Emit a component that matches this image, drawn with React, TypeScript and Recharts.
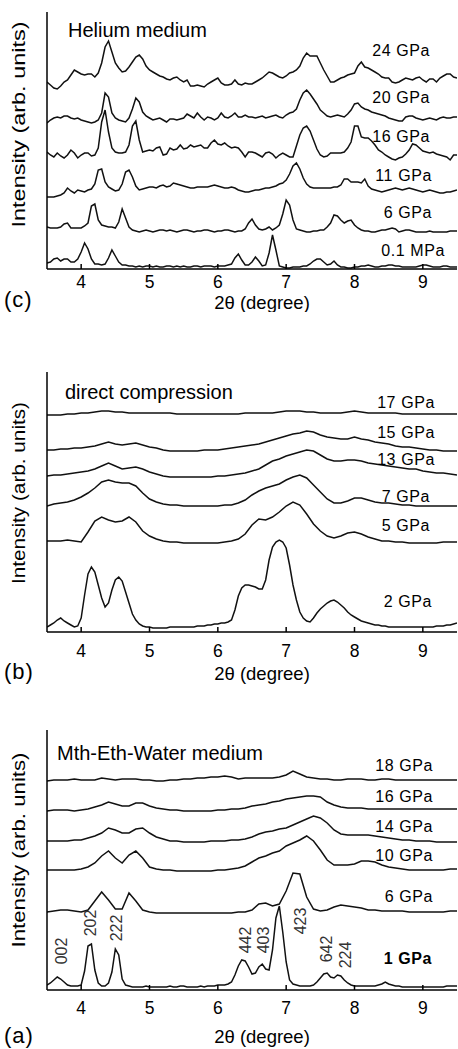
import React from 'react';
import { LineChart, Line, XAxis, YAxis, ReferenceDot } from 'recharts';

const FONT = '"Liberation Sans", Arial, sans-serif';
const TICKS = [4, 5, 6, 7, 8, 9];

// (c) Helium medium — intensities above each baseline, 2θ 3.5..9.5
const HE_24GPA = [
  6, 3, 0, -1, 2, 6, 8, 13, 18, 16,
  14, 13, 14, 14, 11, 15, 25, 41, 47, 36,
  25, 20, 16, 17, 21, 26, 31, 33, 29, 22,
  18, 16, 14, 12, 11, 9, 8, 10, 11, 8,
  6, 8, 2, 2, 3, 2, 1, 4, 6, 8,
  10, 5, 3, 3, 4, 8, 4, 3, 5, 4,
  4, 6, 8, 10, 13, 16, 15, 13, 11, 10,
  12, 15, 16, 18, 22, 30, 35, 32, 32, 32,
  25, 18, 12, 6, 6, 8, 10, 11, 13, 14,
  15, 22, 26, 21, 20, 18, 16, 14, 11, 10,
  10, 6, 5, 6, 8, 10, 9, 8, 10, 11,
  8, 6, 9, 9, 6, 10, 12, 14, 14, 11, 10,
];
const HE_20GPA = [
  -3, 0, 2, 3, 2, 4, 4, 2, 1, 2,
  0, -1, -2, -3, -2, 0, 7, 27, 23, 7,
  2, 0, -1, -2, 2, 11, 22, 18, 8, 4,
  2, 0, 1, 2, 0, -2, 1, 1, 0, 1,
  2, 6, 4, 2, 7, 3, 0, 3, 2, 0,
  2, 7, 3, 2, 4, 7, 3, 3, 5, 3,
  3, 2, 3, 4, 2, 3, 4, 5, 3, 2,
  5, 7, 8, 11, 20, 27, 30, 26, 21, 16,
  10, 7, 4, 3, 4, 5, 4, 3, 6, 10,
  16, 17, 13, 11, 10, 8, 7, 6, 5, 4,
  2, 1, 0, -1, -1, 3, 4, 4, 2, 1,
  0, 1, 2, 1, 0, 2, 3, 2, 2, 3, 3,
];
const HE_16GPA = [
  3, 0, -2, 2, -1, -3, 0, 5, 2, -3,
  0, 2, 2, -1, 0, 7, 33, 45, 23, 7,
  3, 2, 2, 3, 10, 29, 34, 15, 3, 4,
  5, 4, 7, 8, 0, 1, 7, 5, 6, 10,
  6, 7, 10, 8, 9, 10, 7, 7, 12, 15,
  11, 10, 12, 9, 7, 8, 7, 3, -2, 3,
  3, 2, 0, -2, 2, 3, 1, -3, 0, 2,
  0, -2, -2, 9, 20, 27, 29, 24, 15, 6,
  0, -2, -1, 2, 2, 2, 2, 3, 7, 13,
  29, 29, 18, 17, 17, 14, 10, 5, 3, 0,
  -2, -4, -5, -3, -2, 1, 5, 11, 10, 7,
  4, 3, 2, 3, 1, 0, -1, -2, -5, 0, 0,
];
const HE_11GPA = [
  -7, -7, -7, -6, -5, -3, 2, -1, -3, 0,
  -1, -2, 0, 1, 6, 20, 21, 8, 3, 1,
  -1, 0, 6, 18, 20, 13, 4, 0, 1, 2,
  3, 3, 2, 4, 5, 3, 4, 7, 6, 5,
  4, 3, 2, 2, 3, 3, 3, 3, 4, 5,
  4, 3, 2, 2, 3, 2, 0, -1, -2, -2,
  -1, 0, 0, 1, 2, 2, 3, 4, 6, 7,
  10, 16, 24, 27, 21, 12, 6, 3, 2, 2,
  2, 2, 2, 2, 3, 3, 5, 11, 11, 8,
  8, 8, 7, 11, 4, 1, 0, -1, -2, -1,
  0, 1, 2, 1, 0, 1, 2, 1, 0, -1,
  -2, -1, 0, -1, -2, -3, -3, -2, -2, -1, 0,
];
const HE_6GPA = [
  4, 3, 3, 3, 4, 7, 8, 3, 3, 3,
  3, 5, 8, 25, 27, 11, 6, 5, 4, 4,
  3, 9, 22, 13, 4, 1, 0, -1, 0, 1,
  0, -1, 0, 1, 1, 0, 1, 0, -1, 0,
  1, 1, 0, -1, 0, 0, 1, 1, 0, -1,
  0, 0, 1, 1, 0, -1, 0, 0, 2, 8,
  12, 6, 2, 1, 2, 4, 1, 3, 6, 17,
  31, 26, 11, 2, 1, 0, -1, -1, 0, 0,
  1, 1, 4, 8, 16, 15, 11, 8, 10, 11,
  6, 3, 1, 0, 0, -1, -1, 0, 1, 1,
  2, 3, 2, -1, 0, 1, 1, 0, -1, -1,
  -1, -1, 0, -1, -1, -1, -1, -1, 0, 0, 0,
];
const HE_01MPA = [
  4, 5, 8, 9, 6, 8, 8, 5, 5, 8,
  15, 24, 18, 8, 3, 3, 2, 3, 9, 17,
  11, 5, 2, 2, 1, 1, 0, 1, 0, 1,
  1, 0, 1, 0, 0, 1, 1, 0, 1, 0,
  1, 0, 0, 1, 1, 0, 1, 1, 1, 0,
  1, 1, 1, 2, 3, 9, 13, 7, 2, 2,
  5, 10, 6, 1, 2, 14, 32, 17, 1, 0,
  -1, -1, 0, 0, 0, 1, 1, 3, 6, 8,
  8, 5, 2, 3, 6, 2, 0, 0, -1, -1,
  0, 0, 1, 1, 2, 1, 0, 0, 1, 1,
  2, 2, 1, 1, 0, 0, 0, 0, 0, 1,
  2, 2, 1, 0, 0, 0, 1, 1, 0, 0, 0,
];
const HE_OFFSETS = [181, 149, 114, 79, 38, 2];
const HE_LABELS = ['24 GPa', '20 GPa', '16 GPa', '11 GPa', '6 GPa', '0.1 MPa'];
const HE_LABEL_X = [9.105, 9.105, 9.105, 9.134, 9.134, 9.325];
const HE_LABEL_Y = [219, 172, 133, 94, 57, 19];

// (b) direct compression
const DC_17GPA = [
  -1, -1, -1, 0, 0, 1, 1, 2, 3, 3,
  2, 2, 1, 1, 1, 1, 1, 1, 1, 0,
  0, 0, 0, 0, 0, 0, 0, 0, 0, 1,
  1, 1, 1, 1, 2, 3, 3, 3, 2, 2,
  1, 1, 1, 1, 2, 3, 2, 1, 1, 1,
  1, 1, 0, 0, 0, 0, 0, 0, 0, 0, 0,
];
const DC_15GPA = [
  1, 1, 2, 2, 3, 3, 4, 5, 7, 9,
  7, 6, 7, 8, 6, 4, 3, 1, 0, 0,
  0, 0, 0, 1, 1, 1, 2, 3, 4, 5,
  6, 7, 9, 11, 13, 15, 17, 18, 20, 19,
  16, 14, 13, 12, 12, 14, 12, 11, 9, 8,
  7, 5, 4, 4, 3, 2, 1, 1, 0, 0, 0,
];
const DC_13GPA = [
  0, 1, 1, 2, 3, 4, 5, 7, 10, 13,
  10, 7, 8, 9, 7, 4, 2, 0, -1, -1,
  -1, -1, -1, -1, -1, 0, 0, 1, 2, 3,
  5, 7, 11, 15, 17, 20, 22, 24, 26, 25,
  21, 17, 15, 15, 16, 16, 15, 13, 12, 11,
  10, 9, 8, 7, 7, 5, 4, 3, 3, 2, 1,
];
const DC_7GPA = [
  0, 2, 3, 4, 6, 9, 13, 18, 24, 26,
  24, 23, 23, 20, 13, 7, 4, 2, 1, 1,
  0, 0, 0, 0, 0, 0, 1, 1, 3, 6,
  11, 15, 18, 20, 22, 26, 29, 31, 28, 21,
  14, 7, 3, 3, 5, 8, 8, 6, 4, 3,
  3, 2, 1, 1, 0, 0, 0, 0, 0, 0, 0,
];
const DC_5GPA = [
  1, 1, 1, 2, 1, 0, 10, 21, 25, 22,
  20, 21, 25, 20, 11, 6, 3, 1, 0, 0,
  -1, -1, -1, -1, -1, -1, 0, 1, 3, 8,
  17, 23, 22, 25, 30, 36, 40, 37, 28, 18,
  11, 6, 4, 6, 9, 10, 8, 5, 3, 1,
  1, 0, 0, -1, -1, -1, -1, -1, 0, 0, 0,
];
const DC_2GPA = [
  0, 2, 4, 7, 9, 6, 4, 2, 0, 1,
  9, 32, 53, 60, 55, 42, 29, 20, 24, 37,
  47, 50, 46, 35, 24, 13, 7, 3, 1, 0,
  0, -1, -1, -1, -1, -1, 0, 0, 0, 0,
  0, 0, 0, 0, 1, 1, 1, 2, 2, 3,
  3, 4, 4, 5, 7, 17, 31, 39, 42, 42,
  41, 40, 38, 38, 47, 67, 80, 85, 87, 85,
  79, 62, 42, 27, 15, 9, 6, 5, 9, 14,
  18, 21, 24, 26, 27, 25, 22, 19, 15, 12,
  10, 8, 6, 5, 4, 3, 2, 2, 1, 1,
  0, 0, 0, 0, 0, 0, 0, 0, 0, 0,
  0, 0, 0, 0, 1, 1, 1, 2, 2, 3, 4,
];
const DC_OFFSETS = [218, 181, 156, 126, 90, 5];
const DC_LABELS = ['17 GPa', '15 GPa', '13 GPa', '7 GPa', '5 GPa', '2 GPa'];
const DC_LABEL_X = [9.178, 9.178, 9.178, 9.105, 9.105, 9.134];
const DC_LABEL_Y = [230, 200, 173, 136, 107, 31];

// (a) methanol-ethanol-water medium
const MEW_18GPA = [
  -1, 0, 0, 0, 1, 0, 0, 0, 2, 1,
  0, 1, 1, 1, 0, 0, -1, -1, 0, 0,
  1, 1, 2, 2, 3, 3, 4, 3, 1, 2,
  2, 2, 2, 2, 3, 5, 9, 6, 3, 2,
  1, 1, 0, 0, 1, 1, 1, 0, 0, 1,
  1, 0, 0, 0, 0, 0, 0, 0, 0, 0, 0,
];
const MEW_16GPA = [
  -2, -1, -1, -1, -2, -1, 0, 2, 4, 7,
  5, 3, 3, 6, 6, 3, 1, 0, -1, -1,
  -2, -2, -2, -2, -2, -1, -1, 0, 0, 1,
  3, 4, 5, 7, 8, 10, 11, 12, 13, 13,
  12, 7, 4, 2, 1, 1, 1, 0, 0, 0,
  0, 0, 0, 0, 0, 0, 0, 0, 0, 0, 0,
];
const MEW_14GPA = [
  0, 0, 0, 0, 1, 1, 3, 5, 8, 13,
  11, 8, 8, 12, 13, 8, 4, 2, 0, 0,
  -1, -1, -1, -1, 0, 0, 0, 1, 1, 2,
  4, 7, 9, 10, 12, 13, 16, 19, 22, 25,
  23, 18, 11, 7, 6, 6, 6, 6, 5, 4,
  3, 2, 1, 1, 0, 0, 0, -1, -1, -1, -1,
];
const MEW_10GPA = [
  0, 0, 0, 0, 0, 1, 3, 7, 14, 19,
  12, 7, 15, 19, 12, 3, 1, 0, 0, -1,
  -1, -1, -1, -1, -1, 0, 0, 1, 2, 4,
  8, 12, 14, 17, 19, 24, 27, 30, 34, 29,
  20, 10, 5, 5, 5, 6, 9, 9, 8, 5,
  3, 2, 1, 0, 0, 0, 0, 0, 0, 1, 1,
];
const MEW_6GPA = [
  0, 1, 2, 2, 1, 0, 2, 11, 20, 12,
  3, 3, 19, 11, 2, 0, -1, -1, -1, -1,
  -1, -1, -1, -1, -1, -1, -1, -1, 0, 0,
  2, 8, 9, 6, 8, 21, 39, 38, 15, 3,
  1, 2, 5, 7, 6, 5, 4, 2, 2, 1,
  1, 1, 1, 0, 0, 0, 0, 0, 0, 1, 1,
];
const MEW_1GPA = [
  1, 3, 6, 9, 7, 4, 1, 0, 0, 0,
  1, 15, 40, 42, 16, 3, 0, 0, 3, 14,
  37, 31, 7, 1, 0, -1, -1, -1, -1, 0,
  -1, -1, -1, -1, -1, -1, 0, -1, -1, 0,
  0, -1, -1, -1, -1, 0, -1, 0, 0, 0,
  1, 1, 1, 2, 4, 11, 20, 26, 25, 19,
  12, 13, 19, 22, 17, 16, 36, 68, 80, 54,
  24, 6, 2, 1, 0, 0, 0, 0, 1, 4,
  8, 12, 13, 9, 8, 11, 10, 6, 3, 1,
  0, 0, 0, 0, 0, 0, 0, 1, 2, 4,
  2, 1, 0, 0, -1, -1, -1, -1, -1, -1,
  -1, -1, -1, -1, -1, -1, -1, 0, 0, 0, 0,
];
const MEW_OFFSETS = [210, 181, 149, 120, 78, 4];
const MEW_LABELS = ['18 GPa', '16 GPa', '14 GPa', '10 GPa', '6 GPa', '1 GPa'];
const MEW_LABEL_X = [9.149, 9.149, 9.149, 9.149, 9.149, 9.134];
const MEW_LABEL_Y = [225, 194, 164, 135, 94, 32];

const HKL = ['002', '202', '222', '442', '403', '423', '642', '224'];
const HKL_X = [3.705, 4.14, 4.517, 6.408, 6.666, 7.203, 7.593, 7.861];
const HKL_Y = [39, 67, 62, 50, 50, 69, 41, 35];

const AXIS = { stroke: '#000', strokeWidth: 1.5 };

const toPoints = (values: number[], offset: number) =>
  values.map((v, i) => ({ twoTheta: 3.5 + (i * 6) / (values.length - 1), intensity: v + offset }));

interface PanelProps {
  top: number;
  plotHeight: number;
  axisHeight: number;
  traces: number[][];
  offsets: number[];
  labels: string[];
  labelX: number[];
  labelY: number[];
  title: string;
  titleX: number;
  titleY: number;
  tickMargin: number;
  xTitleOffset: number;
  yTitleDy: number;
  yTitleLength: number;
  letter: string;
  letterTop: number;
  boldLabel?: string;
  hkl?: boolean;
}

const Panel: React.FC<PanelProps> = (p) => {
  const height = 12 + p.plotHeight + p.axisHeight;
  return (
    <div style={{ position: 'absolute', left: 0, top: p.top, width: 458, height }}>
      <LineChart width={458} height={height} margin={{ top: 12, right: 1, bottom: 0, left: 0 }}>
        <XAxis
          dataKey="twoTheta"
          type="number"
          domain={[3.5, 9.5]}
          ticks={TICKS}
          allowDataOverflow
          height={p.axisHeight}
          tickSize={-5}
          tickMargin={p.tickMargin}
          axisLine={AXIS}
          tickLine={AXIS}
          tick={{ fontSize: 17.5, fill: '#000', fontFamily: FONT }}
          label={{
            value: '2θ (degree)',
            position: 'insideBottom',
            offset: p.xTitleOffset,
            dx: 10,
            fontSize: 18.5,
            fill: '#000',
            fontFamily: FONT,
          }}
        />
        <XAxis
          xAxisId="top"
          orientation="top"
          dataKey="twoTheta"
          type="number"
          domain={[3.5, 9.5]}
          ticks={TICKS}
          allowDataOverflow
          height={0}
          tickSize={-5}
          tick={false}
          axisLine={AXIS}
          tickLine={AXIS}
        />
        <YAxis
          type="number"
          domain={[0, p.plotHeight]}
          allowDataOverflow
          width={47}
          tick={false}
          tickLine={false}
          axisLine={AXIS}
          label={{
            position: 'insideLeft',
            content: (lp: any) => {
              const vb = lp.viewBox || { x: 0, y: 12, width: 47, height: p.plotHeight };
              const cx = vb.x + 18;
              const cy = vb.y + vb.height / 2 + p.yTitleDy;
              return (
                <text
                  x={cx}
                  y={cy}
                  transform={`rotate(-90 ${cx} ${cy})`}
                  textAnchor="middle"
                  dominantBaseline="central"
                  fontSize={19}
                  fontFamily={FONT}
                  fill="#000"
                  textLength={p.yTitleLength}
                  lengthAdjust="spacingAndGlyphs"
                >
                  Intensity (arb. units)
                </text>
              );
            },
          }}
        />
        <YAxis
          yAxisId="right"
          orientation="right"
          type="number"
          domain={[0, p.plotHeight]}
          allowDataOverflow
          width={0}
          tick={false}
          tickLine={false}
          axisLine={AXIS}
        />
        {p.traces.map((t, i) => (
          <Line
            key={p.labels[i]}
            data={toPoints(t, p.offsets[i])}
            dataKey="intensity"
            type="linear"
            stroke="#111"
            strokeWidth={1.5}
            dot={false}
            isAnimationActive={false}
          />
        ))}
        {p.labels.map((text, i) => (
          <ReferenceDot
            key={'lbl' + text}
            x={p.labelX[i]}
            y={p.labelY[i]}
            r={0}
            ifOverflow="visible"
            shape={(s: any) => (
              <text
                x={s.cx}
                y={s.cy}
                textAnchor="end"
                dominantBaseline="central"
                fontSize={16}
                letterSpacing={0.6}
                fontWeight={text === p.boldLabel ? 'bold' : 'normal'}
                fontFamily={FONT}
                fill="#000"
              >
                {text}
              </text>
            )}
          />
        ))}
        <ReferenceDot
          x={p.titleX}
          y={p.titleY}
          r={0}
          ifOverflow="visible"
          shape={(s: any) => (
            <text x={s.cx} y={s.cy} dominantBaseline="central" fontSize={20} fontFamily={FONT} fill="#000">
              {p.title}
            </text>
          )}
        />
        {p.hkl &&
          HKL.map((h, i) => (
            <ReferenceDot
              key={'hkl' + h}
              x={HKL_X[i]}
              y={HKL_Y[i]}
              r={0}
              ifOverflow="visible"
              shape={(s: any) => (
                <text
                  x={s.cx}
                  y={s.cy}
                  transform={`rotate(-90 ${s.cx} ${s.cy})`}
                  textAnchor="middle"
                  dominantBaseline="central"
                  fontSize={16}
                  fontFamily={FONT}
                  fill="#333"
                >
                  {h}
                </text>
              )}
            />
          ))}
      </LineChart>
      <div
        style={{
          position: 'absolute',
          left: 4,
          top: p.letterTop - p.top,
          fontFamily: FONT,
          fontSize: 22,
          letterSpacing: 1,
          color: '#000',
        }}
      >
        {p.letter}
      </div>
    </div>
  );
};

export default function App() {
  return (
    <div style={{ position: 'absolute', left: 0, top: 0, width: 458, height: 1049, background: '#fff' }}>
      <Panel
        top={0}
        plotHeight={257}
        axisHeight={43}
        traces={[HE_24GPA, HE_20GPA, HE_16GPA, HE_11GPA, HE_6GPA, HE_01MPA]}
        offsets={HE_OFFSETS}
        labels={HE_LABELS}
        labelX={HE_LABEL_X}
        labelY={HE_LABEL_Y}
        title="Helium medium"
        titleX={3.807}
        titleY={239}
        tickMargin={12}
        xTitleOffset={3}
        yTitleDy={-16}
        yTitleLength={206}
        letter="(c)"
        letterTop={287}
      />
      <Panel
        top={360}
        plotHeight={260}
        axisHeight={58}
        traces={[DC_17GPA, DC_15GPA, DC_13GPA, DC_7GPA, DC_5GPA, DC_2GPA]}
        offsets={DC_OFFSETS}
        labels={DC_LABELS}
        labelX={DC_LABEL_X}
        labelY={DC_LABEL_Y}
        title="direct compression"
        titleX={3.763}
        titleY={240}
        tickMargin={18}
        xTitleOffset={10}
        yTitleDy={-9}
        yTitleLength={182}
        letter="(b)"
        letterTop={659}
      />
      <Panel
        top={718}
        plotHeight={260}
        axisHeight={59}
        traces={[MEW_18GPA, MEW_16GPA, MEW_14GPA, MEW_10GPA, MEW_6GPA, MEW_1GPA]}
        offsets={MEW_OFFSETS}
        labels={MEW_LABELS}
        labelX={MEW_LABEL_X}
        labelY={MEW_LABEL_Y}
        title="Mth-Eth-Water medium"
        titleX={3.646}
        titleY={237}
        tickMargin={17}
        xTitleOffset={6}
        yTitleDy={-10}
        yTitleLength={195}
        letter="(a)"
        letterTop={1023}
        boldLabel="1 GPa"
        hkl
      />
    </div>
  );
}
